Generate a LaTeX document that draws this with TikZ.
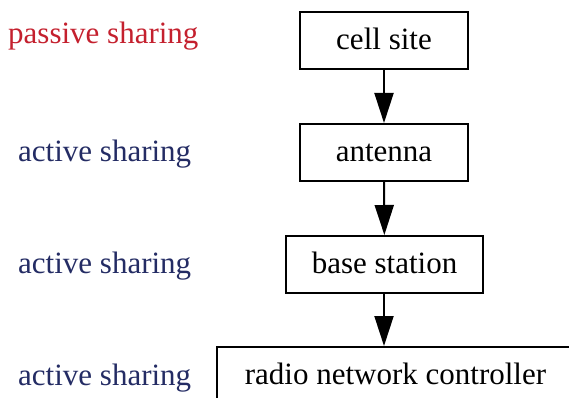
\documentclass[tikz,border=0pt]{standalone}
\usepackage{fontspec}
\setmainfont{Liberation Serif}
\usetikzlibrary{arrows.meta, positioning}

\definecolor{passivered}{RGB}{196,32,46}
\definecolor{activeblue}{RGB}{36,44,100}

\begin{document}
\begin{tikzpicture}[x=1pt, y=-1pt, font=\fontsize{31}{36}\selectfont,
    level/.style={draw, line width=2pt, rectangle, minimum height=57pt, inner sep=0pt,
                  text height=22pt, text depth=4pt},
    share/.style={anchor=base west, inner sep=0pt},
    link/.style={-{Triangle[length=30pt, width=19pt]}, line width=2pt}]

        \useasboundingbox (0,0) rectangle (569,398);
        \clip (0,0) rectangle (569,398);

        % Draw the four levels of the network

        \node[level, minimum width=168pt] (site) at (384,41) {cell site};
        \node[level, minimum width=168pt] (ant) at (384,152.5) {antenna};
        \node[level, minimum width=197pt] (bs) at (384.5,264.5) {base station};
        \node[level, minimum width=357pt] (rnc) at (395.5,375.5) {radio network controller};

        % Draw the kind of sharing for each level

        \node[share, text=passivered] (l1) at (8,44) {passive sharing};
        \node[share, text=activeblue] (l2) at (18,161) {active sharing};
        \node[share, text=activeblue] (l3) at (18,273) {active sharing};
        \node[share, text=activeblue] (l4) at (18,385) {active sharing};

        % Arrows going down the levels

        \draw[link] (site) -- (ant);
        \draw[link] (ant) -- (bs);
        \draw[link] (bs.south -| site) -- (rnc.north -| site);
    \end{tikzpicture}
\end{document}
